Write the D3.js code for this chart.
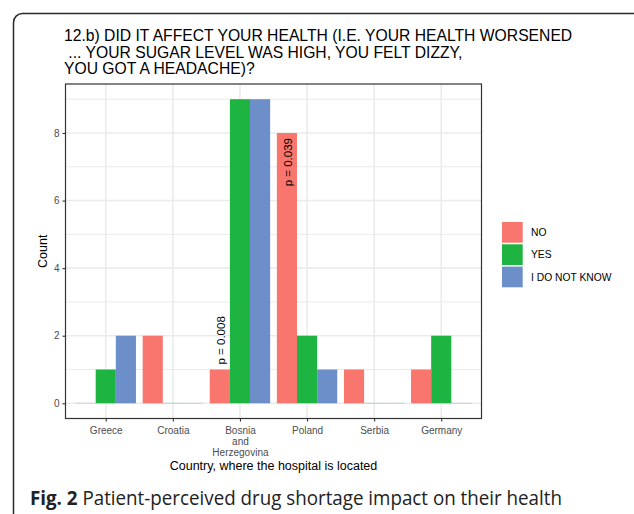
<!DOCTYPE html>
<html>
<head>
<meta charset="utf-8">
<script src="https://cdn.jsdelivr.net/npm/d3@7"></script>
<style>
  html, body { margin: 0; padding: 0; background: #fff; }
  svg { display: block; }
</style>
</head>
<body>
<svg id="chart" width="634" height="514"></svg>
<script>
// Survey answers per country
const countries = ["Greece", "Croatia", "Bosnia and Herzegovina", "Poland", "Serbia", "Germany"];
const countryLabels = [["Greece"], ["Croatia"], ["Bosnia", "and", "Herzegovina"], ["Poland"], ["Serbia"], ["Germany"]];
const answers = ["NO", "YES", "I DO NOT KNOW"];
const noCounts     = [0, 2, 1, 8, 1, 1];
const yesCounts    = [1, 0, 9, 2, 0, 2];
const dontKnow     = [2, 0, 9, 1, 0, 0];
const yTicks = [0, 2, 4, 6, 8];
const yMinor = [1, 3, 5, 7, 9];
// significance notes: country, answer, text, placement (above / inside bar top)
const pNotes = [
  { country: "Bosnia and Herzegovina", answer: "NO", text: "p = 0.008", place: "above" },
  { country: "Poland", answer: "NO", text: "p = 0.039", place: "inside" }
];
const titleLines = [
  "12.b) DID IT AFFECT YOUR HEALTH (I.E. YOUR HEALTH WORSENED",
  " ... YOUR SUGAR LEVEL WAS HIGH, YOU FELT DIZZY,",
  "YOU GOT A HEADACHE)?"
];
const colors = ["#F8766D", "#1DB441", "#6D8FC9"];

const seriesValues = [noCounts, yesCounts, dontKnow];
const rows = [];
countries.forEach((c, i) => answers.forEach((a, j) => rows.push({ country: c, answer: a, value: seriesValues[j][i] })));

const svg = d3.select("#chart");

// rounded figure frame
svg.append("rect")
  .attr("x", 13.5).attr("y", 13.5).attr("width", 640).attr("height", 540)
  .attr("rx", 9).attr("ry", 9)
  .attr("fill", "none").attr("stroke", "#2b2b2b").attr("stroke-width", 1.5);

const panel = { left: 65.5, right: 481.5, top: 84, bottom: 418.5 };

const x = d3.scalePoint().domain(countries).range([panel.left, panel.right]).padding(0.6);
const step = x.step();
const xSub = d3.scaleBand().domain(answers).range([-0.45 * step, 0.45 * step]).padding(0);
const y = d3.scaleLinear().domain([-0.45, 9.45]).range([panel.bottom, panel.top]);
const color = d3.scaleOrdinal().domain(answers).range(colors);

const font = "'Liberation Sans', Arial, Helvetica, sans-serif";

// panel background + grid
const g = svg.append("g");
g.append("rect")
  .attr("x", panel.left).attr("y", panel.top)
  .attr("width", panel.right - panel.left).attr("height", panel.bottom - panel.top)
  .attr("fill", "#fff");

g.selectAll(".minor").data(yMinor).join("line")
  .attr("x1", panel.left).attr("x2", panel.right)
  .attr("y1", d => y(d)).attr("y2", d => y(d))
  .attr("stroke", "#EBEBEB").attr("stroke-width", 1);
g.selectAll(".major").data(yTicks).join("line")
  .attr("x1", panel.left).attr("x2", panel.right)
  .attr("y1", d => y(d)).attr("y2", d => y(d))
  .attr("stroke", "#EBEBEB").attr("stroke-width", 1.6);
g.selectAll(".vmajor").data(countries).join("line")
  .attr("x1", d => x(d)).attr("x2", d => x(d))
  .attr("y1", panel.top).attr("y2", panel.bottom)
  .attr("stroke", "#EBEBEB").attr("stroke-width", 1.6);

// bars (zero counts leave a faint sliver on the baseline)
g.selectAll(".bar").data(rows).join("rect")
  .attr("x", d => x(d.country) + xSub(d.answer))
  .attr("width", xSub.bandwidth())
  .attr("y", d => d.value > 0 ? y(d.value) : y(0) - 0.5)
  .attr("height", d => d.value > 0 ? y(0) - y(d.value) : 1)
  .attr("fill", d => color(d.answer))
  .attr("opacity", d => d.value > 0 ? 1 : 0.3);

// p-value notes, rotated
pNotes.forEach(n => {
  const v = seriesValues[answers.indexOf(n.answer)][countries.indexOf(n.country)];
  const cx = x(n.country) + xSub(n.answer) + xSub.bandwidth() / 2 + 1;
  const cy = n.place === "above" ? y(v) - 5 : y(v) + 5;
  g.append("text")
    .attr("transform", `translate(${cx},${cy}) rotate(-90)`)
    .attr("text-anchor", n.place === "above" ? "start" : "end")
    .attr("dy", "0.35em")
    .attr("font-family", font).attr("font-size", 11.5)
    .attr("fill", "#000")
    .text(n.text);
});

// panel border
g.append("rect")
  .attr("x", panel.left).attr("y", panel.top)
  .attr("width", panel.right - panel.left).attr("height", panel.bottom - panel.top)
  .attr("fill", "none").attr("stroke", "#333").attr("stroke-width", 1.2);

// y axis
const yAxis = d3.axisLeft(y).tickValues(yTicks).tickSize(3).tickPadding(3).tickFormat(d3.format("d"));
const ya = svg.append("g").attr("transform", `translate(${panel.left},0)`).call(yAxis);
ya.select(".domain").remove();
ya.selectAll(".tick line").attr("stroke", "#333").attr("stroke-width", 1.1);
ya.selectAll(".tick text").attr("fill", "#4D4D4D").attr("font-family", font).attr("font-size", 10);

// x axis
const xAxis = d3.axisBottom(x).tickSize(3).tickPadding(4).tickFormat("");
const xa = svg.append("g").attr("transform", `translate(0,${panel.bottom})`).call(xAxis);
xa.select(".domain").remove();
xa.selectAll(".tick line").attr("stroke", "#333").attr("stroke-width", 1.1);
xa.selectAll(".tick").each(function(d, i) {
  const t = d3.select(this).append("text")
    .attr("fill", "#4D4D4D").attr("font-family", font).attr("font-size", 10)
    .attr("text-anchor", "middle").attr("y", 15);
  countryLabels[i].forEach((line, k) => {
    t.append("tspan").attr("x", 0).attr("dy", k === 0 ? 0 : 11).text(line);
  });
});

// axis titles
svg.append("text")
  .attr("transform", `translate(47,${(panel.top + panel.bottom) / 2}) rotate(-90)`)
  .attr("text-anchor", "middle")
  .attr("font-family", font).attr("font-size", 12.5).attr("fill", "#000")
  .text("Count");
svg.append("text")
  .attr("x", (panel.left + panel.right) / 2).attr("y", 469.5)
  .attr("text-anchor", "middle")
  .attr("font-family", font).attr("font-size", 12.5).attr("fill", "#000")
  .text("Country, where the hospital is located");

// title
const title = svg.append("text").attr("font-family", font).attr("font-size", 15.7).attr("fill", "#000");
titleLines.forEach((line, k) => {
  title.append("tspan").attr("x", 64).attr("y", 41 + k * 16.5)
    .attr("xml:space", "preserve").style("white-space", "pre").text(line);
});

// legend
const legend = svg.append("g").attr("transform", "translate(502,222)");
answers.forEach((a, i) => {
  legend.append("rect")
    .attr("x", 0).attr("y", i * 22.3)
    .attr("width", 20.7).attr("height", 20.7)
    .attr("fill", color(a));
  legend.append("text")
    .attr("x", 29).attr("y", i * 22.3 + 10.35).attr("dy", "0.35em")
    .attr("font-family", font).attr("font-size", 10.3).attr("fill", "#000")
    .text(a);
});

// figure caption
const cap = svg.append("text")
  .attr("x", 30).attr("y", 505)
  .attr("font-family", "'Open Sans', 'Noto Sans', sans-serif").attr("font-size", 20)
  .attr("fill", "#222")
  .attr("textLength", 532).attr("lengthAdjust", "spacingAndGlyphs");
cap.append("tspan").attr("font-weight", "bold").text("Fig. 2");
cap.append("tspan").attr("font-weight", "normal").text(" Patient-perceived drug shortage impact on their health");
</script>
</body>
</html>
